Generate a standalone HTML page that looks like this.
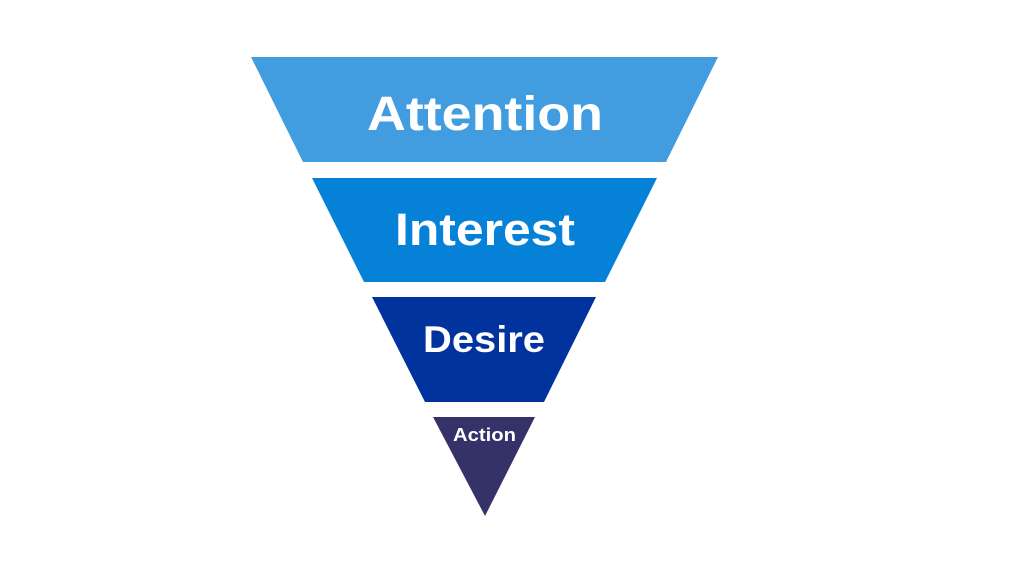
<!DOCTYPE html>
<html><head><style>body{margin:0;background:#fff}</style></head><body>
<svg width="1024" height="576" xmlns="http://www.w3.org/2000/svg" style="display:block">
<rect width="1024" height="576" fill="#fff"/>
<polygon points="251,57 718,57 666,162 303,162" fill="#429ce0"/>
<polygon points="312,178 657,178 605,282 364,282" fill="#0582d8"/>
<polygon points="372,297 596,297 544,402 425,402" fill="#00339e"/>
<polygon points="433,417 535,417 485,516" fill="#343268"/>
<g font-family="Liberation Sans, sans-serif" font-weight="bold" fill="#fff">
<text x="367" y="130" font-size="48" textLength="236" lengthAdjust="spacingAndGlyphs">Attention</text>
<text x="395" y="245" font-size="45" textLength="180" lengthAdjust="spacingAndGlyphs">Interest</text>
<text x="423" y="352" font-size="37" textLength="122" lengthAdjust="spacingAndGlyphs">Desire</text>
<text x="453" y="441" font-size="18" textLength="63" lengthAdjust="spacingAndGlyphs">Action</text>
</g>
</svg>
</body></html>
